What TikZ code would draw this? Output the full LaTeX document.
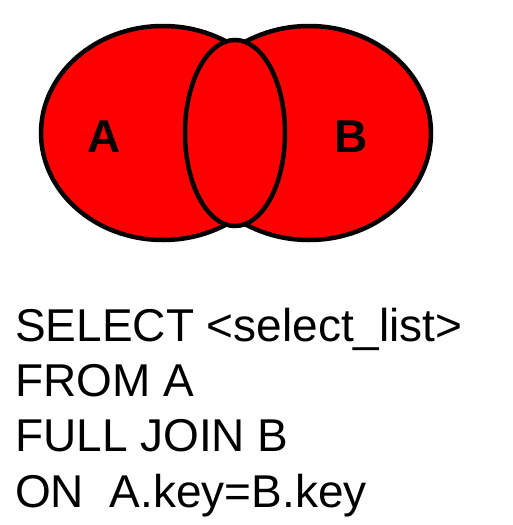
\documentclass[tikz,border=0pt]{standalone}
\usepackage{fontspec}
\setmainfont{Liberation Sans}
\begin{document}
\begin{tikzpicture}[x=1pt,y=-1pt,
  venn/.style={fill=red,draw=black,line width=4.5pt},
  setlabel/.style={inner sep=0pt,anchor=base,font=\fontsize{46}{55}\selectfont\bfseries},
  sqlline/.style={inner sep=0pt,anchor=base west,font=\fontsize{46}{55}\selectfont}]
\useasboundingbox (0,0) rectangle (512,525);
\draw[venn] (163,133) ellipse [x radius=122, y radius=107];
\draw[venn] (309,133) ellipse [x radius=122, y radius=107];
\draw[venn] (235,133) ellipse [x radius=50, y radius=93];
\node[setlabel] (labA) at (104,152) {A};
\node[setlabel] (labB) at (351,152) {B};
\node[sqlline] (l1) at (15,341) {SELECT <select\_list>};
\node[sqlline] (l2) at (15,396) {FROM A};
\node[sqlline] (l3) at (15,451) {FULL JOIN B};
\node[sqlline] (l4) at (15,507) {ON\ \ A.key=B.key};
\end{tikzpicture}
\end{document}
